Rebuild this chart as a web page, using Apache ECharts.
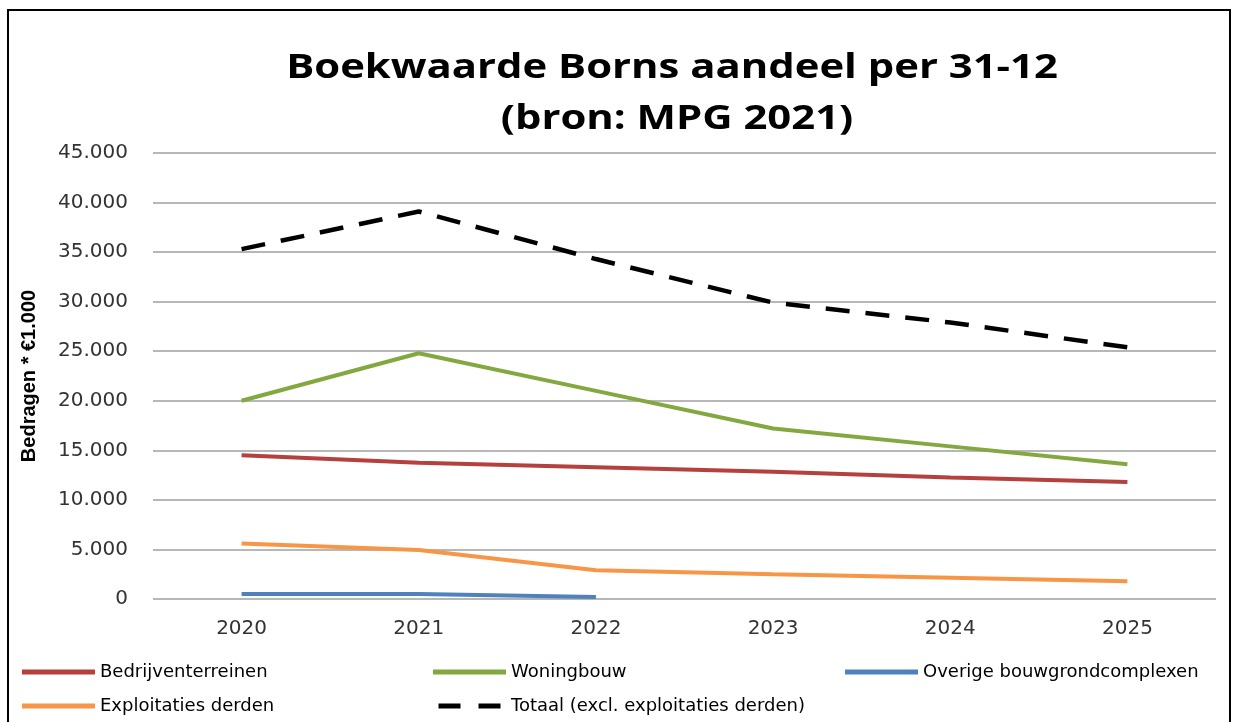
<!DOCTYPE html>
<html>
<head>
<meta charset="utf-8">
<script src="https://cdn.jsdelivr.net/npm/echarts@6/dist/echarts.min.js"></script>
<style>
html,body{margin:0;padding:0;background:#fff;}
#chart{width:1234px;height:722px;}
</style>
</head>
<body>
<div id="chart"></div>
<script>
const categories = ['2020','2021','2022','2023','2024','2025'];
const bedrijventerreinen = [14500, 13750, 13300, 12850, 12250, 11800];
const woningbouw = [20000, 24800, 21000, 17200, 15400, 13600];
const overige = [500, 500, 200, null, null, null];
const exploitaties = [5600, 4950, 2900, 2500, 2150, 1800];
const totaal = [35300, 39100, 34300, 29900, 27900, 25400];
const yTicks = [0, 5000, 10000, 15000, 20000, 25000, 30000, 35000, 40000, 45000];
const titleLines = ['Boekwaarde Borns aandeel per 31-12', '(bron: MPG 2021)'];

const chart = echarts.init(document.getElementById('chart'));
const legendText = {fontFamily:'DejaVu Sans, sans-serif', fontSize:18, color:'#000'};
const dashIcon = 'path://M0,0H22V5H0Z M40,0H62V5H40Z';
function fmt(v){ return v === 0 ? '0' : (v/1000).toFixed(0) + '.000'; }
const titleFont = {fontFamily:'Open Sans, sans-serif', fontWeight:'bold', fontSize:34, fill:'#000', textAlign:'center', textVerticalAlign:'middle'};
chart.setOption({
  animation:false,
  backgroundColor:'#fff',
  graphic:[
    {type:'rect', shape:{x:8, y:10, width:1222, height:730}, style:{fill:'none', stroke:'#000', lineWidth:2}, silent:true},
    {type:'text', x:672, y:68, scaleX:1.23, style:Object.assign({text:titleLines[0]}, titleFont), silent:true},
    {type:'text', x:677, y:119, scaleX:1.23, style:Object.assign({text:titleLines[1]}, titleFont), silent:true}
  ],
  grid:{left:153, right:18, top:153, bottom:123, containLabel:false},
  xAxis:{
    type:'category', data:categories, boundaryGap:true,
    axisLine:{show:false}, axisTick:{show:false},
    axisLabel:{fontFamily:'DejaVu Sans, sans-serif', fontSize:20, color:'#333', margin:20}
  },
  yAxis:{
    type:'value', min:0, max:45000, interval:5000,
    name:'Bedragen * €1.000', nameLocation:'middle', nameGap:114, nameRotate:90,
    nameTextStyle:{fontFamily:'Liberation Sans, sans-serif', fontWeight:'bold', fontSize:20, color:'#000'},
    axisLine:{show:false}, axisTick:{show:false},
    splitLine:{lineStyle:{color:'#9f9f9f', width:1.5}},
    axisLabel:{fontFamily:'DejaVu Sans, sans-serif', fontSize:20, color:'#333', margin:25,
      formatter:function(v){ return yTicks.indexOf(v) >= 0 ? fmt(v) : ''; }}
  },
  legend:[
    {left:17, top:658, orient:'vertical', itemGap:16, itemWidth:73, itemHeight:5, icon:'rect',
      data:['Bedrijventerreinen','Exploitaties derden'], textStyle:legendText},
    {left:428, top:658, orient:'vertical', itemGap:16, itemWidth:73, itemHeight:5, icon:'rect',
      data:['Woningbouw',{name:'Totaal (excl. exploitaties derden)', icon:dashIcon}], textStyle:legendText},
    {left:840, top:658, orient:'vertical', itemGap:16, itemWidth:73, itemHeight:5, icon:'rect',
      data:['Overige bouwgrondcomplexen'], textStyle:legendText}
  ],
  series:[
    {name:'Bedrijventerreinen', type:'line', data:bedrijventerreinen, showSymbol:false, symbol:'none', lineStyle:{color:'#B5403D', width:4}, itemStyle:{color:'#B5403D'}},
    {name:'Woningbouw', type:'line', data:woningbouw, showSymbol:false, symbol:'none', lineStyle:{color:'#82A83F', width:4}, itemStyle:{color:'#82A83F'}},
    {name:'Overige bouwgrondcomplexen', type:'line', data:overige, showSymbol:false, symbol:'none', lineStyle:{color:'#4F81BD', width:4}, itemStyle:{color:'#4F81BD'}},
    {name:'Exploitaties derden', type:'line', data:exploitaties, showSymbol:false, symbol:'none', lineStyle:{color:'#F79646', width:4}, itemStyle:{color:'#F79646'}},
    {name:'Totaal (excl. exploitaties derden)', type:'line', data:totaal, showSymbol:false, symbol:'none', lineStyle:{color:'#000', width:4.5, type:[24,16]}, itemStyle:{color:'#000'}}
  ]
});
</script>
</body>
</html>
